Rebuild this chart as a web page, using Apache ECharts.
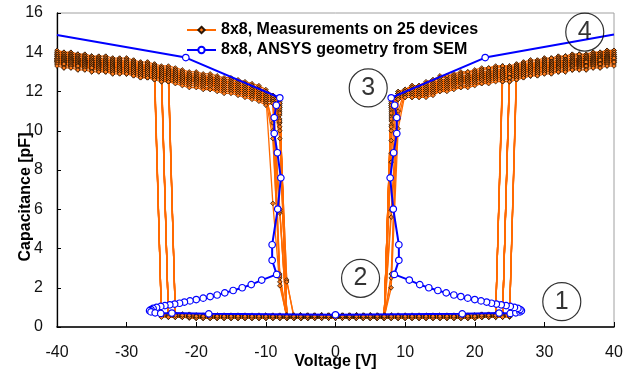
<!DOCTYPE html>
<html>
<head>
<meta charset="utf-8">
<script src="https://cdn.jsdelivr.net/npm/echarts@6/dist/echarts.min.js"></script>
<style>
html, body { margin: 0; padding: 0; background: #fff; }
#chart { width: 632px; height: 374px; }
</style>
</head>
<body>
<div id="chart"></div>
<script>
// C-V sweeps of 8x8 capacitive switches: 25 measured devices and the ANSYS model
const measName = '8x8, Measurements on 25 devices';
const simName = '8x8, ANSYS geometry from SEM';

// Sweep voltages [V]
const hiNegV = [-40,-39,-38,-37,-36,-35,-34,-33,-32,-31,-30,-29,-28,-27,-26,-25,-24,-23,-22,-21,-20,-19,-18,-17,-16,-15,-14,-13,-12,-11,-10,-9];
const hiPosV = [9,10,11,12,13,14,15,16,17,18,19,20,21,22,23,24,25,26,27,28,29,30,31,32,33,34,35,36,37,38,39,40];
const loV = [-25,-24,-23,-22,-21,-20,-19,-18,-17,-16,-15,-14,-13,-12,-11,-10,-9,-8,-7,-6,-5,-4,-3,-2,-1,0,1,2,3,4,5,6,7,8,9,10,11,12,13,14,15,16,17,18,19,20,21,22,23,24,25];
const tailNegV = [-8,-7,-6];
const tailPosV = [8,7,6];

// Pull-in voltage magnitude of each device (first point in the down state)
const pullNeg = [26,25,24,26,25,24,26,25,24,25,26,25,24,25,26,24,25,26,24,25,26,24,25,26,24];
const pullPos = [24,25,26,25,24,26,24,25,26,25,24,25,26,24,25,26,25,24,25,26,24,25,26,25,24];

// Down-state capacitance [pF], V = -40 ... -9
const hiNegC = [
[14.1,14.0,14.0,13.9,13.9,13.8,13.8,13.8,13.7,13.7, 13.7,13.6,13.5,13.5,13.4,13.3,13.3,13.2,13.1,13.0, 13.0,12.9,12.9,12.8,12.7,12.7,12.6,12.5,12.4,12.3, 12.1,11.8],
[14.0,13.9,13.9,13.8,13.8,13.7,13.7,13.7,13.6,13.6, 13.6,13.5,13.4,13.4,13.3,13.2,13.2,13.1,13.0,12.9, 12.9,12.8,12.8,12.7,12.6,12.6,12.5,12.4,12.3,12.2, 12.0,11.8],
[14.0,14.0,13.9,13.9,13.8,13.8,13.7,13.6,13.6,13.6, 13.5,13.5,13.4,13.3,13.3,13.2,13.1,13.1,13.0,12.9, 12.9,12.8,12.7,12.7,12.6,12.6,12.5,12.4,12.3,12.1, 12.0,11.8],
[13.9,13.8,13.8,13.7,13.7,13.6,13.6,13.6,13.5,13.5, 13.5,13.4,13.3,13.3,13.2,13.1,13.1,13.0,12.9,12.8, 12.8,12.7,12.7,12.6,12.5,12.5,12.4,12.3,12.2,12.1, 11.9,11.7],
[13.9,13.9,13.8,13.8,13.7,13.7,13.6,13.5,13.5,13.5, 13.4,13.4,13.3,13.2,13.2,13.1,13.0,13.0,12.9,12.8, 12.7,12.7,12.6,12.6,12.5,12.4,12.4,12.3,12.2,12.0, 11.9,10.0],
[13.9,13.8,13.8,13.7,13.6,13.6,13.6,13.5,13.5,13.5, 13.4,13.4,13.3,13.3,13.2,13.1,13.1,13.0,12.9,12.8, 12.8,12.7,12.7,12.6,12.5,12.5,12.4,12.3,12.2,12.1, 11.9,11.7],
[13.8,13.7,13.7,13.6,13.6,13.5,13.5,13.5,13.4,13.4, 13.4,13.3,13.2,13.2,13.1,13.0,13.0,12.9,12.8,12.7, 12.7,12.6,12.6,12.5,12.4,12.4,12.3,12.2,12.1,12.0, 11.8,11.7],
[13.8,13.8,13.7,13.7,13.6,13.6,13.5,13.4,13.4,13.4, 13.3,13.3,13.2,13.1,13.1,13.0,12.9,12.9,12.8,12.7, 12.7,12.6,12.5,12.5,12.4,12.4,12.3,12.2,12.1,11.9, 11.8,11.7],
[13.8,13.7,13.7,13.6,13.6,13.5,13.5,13.5,13.4,13.4, 13.4,13.3,13.2,13.2,13.1,13.0,13.0,12.9,12.8,12.7, 12.7,12.6,12.6,12.5,12.4,12.4,12.3,12.2,12.1,12.0, 11.8,11.7],
[13.7,13.7,13.6,13.6,13.6,13.5,13.5,13.4,13.4,13.4, 13.3,13.3,13.2,13.2,13.1,13.0,13.0,12.9,12.8,12.7, 12.7,12.6,12.6,12.5,12.4,12.4,12.3,12.2,12.1,12.0, 11.8,6.3],
[13.7,13.6,13.6,13.5,13.5,13.4,13.4,13.4,13.3,13.3, 13.3,13.2,13.1,13.1,13.0,12.9,12.9,12.8,12.7,12.6, 12.6,12.5,12.5,12.4,12.3,12.3,12.2,12.1,12.0,11.9, 11.7,11.6],
[13.7,13.7,13.6,13.6,13.5,13.5,13.4,13.3,13.3,13.3, 13.2,13.2,13.1,13.0,13.0,12.9,12.8,12.8,12.7,12.6, 12.6,12.5,12.4,12.4,12.3,12.3,12.2,12.1,12.0,11.8, 11.7,11.6],
[13.6,13.6,13.5,13.5,13.5,13.4,13.4,13.4,13.3,13.3, 13.3,13.2,13.1,13.1,13.0,12.9,12.9,12.8,12.7,12.6, 12.6,12.5,12.5,12.4,12.3,12.3,12.2,12.1,12.0,11.9, 11.7,11.6],
[13.7,13.6,13.6,13.5,13.5,13.4,13.4,13.3,13.3,13.3, 13.3,13.2,13.1,13.1,13.0,12.9,12.9,12.8,12.7,12.6, 12.6,12.5,12.5,12.4,12.3,12.3,12.2,12.1,12.0,11.9, 11.7,10.4],
[13.7,13.6,13.6,13.5,13.5,13.4,13.4,13.4,13.3,13.3, 13.2,13.2,13.1,13.1,13.0,12.9,12.9,12.8,12.7,12.6, 12.6,12.5,12.5,12.4,12.3,12.3,12.2,12.1,12.0,11.9, 11.7,11.6],
[13.6,13.5,13.5,13.4,13.4,13.3,13.3,13.3,13.2,13.2, 13.2,13.1,13.0,13.0,12.9,12.8,12.8,12.7,12.6,12.5, 12.5,12.4,12.4,12.3,12.2,12.2,12.1,12.0,11.9,11.8, 11.6,11.5],
[13.6,13.5,13.5,13.4,13.4,13.3,13.3,13.2,13.2,13.2, 13.1,13.1,13.0,13.0,12.9,12.8,12.8,12.7,12.6,12.5, 12.5,12.4,12.4,12.3,12.2,12.2,12.1,12.0,11.9,11.8, 11.6,9.6],
[13.5,13.5,13.5,13.4,13.4,13.3,13.3,13.3,13.2,13.2, 13.2,13.1,13.0,13.0,12.9,12.8,12.8,12.7,12.6,12.5, 12.5,12.4,12.3,12.3,12.2,12.2,12.1,12.0,11.9,11.8, 11.6,11.5],
[13.6,13.5,13.5,13.4,13.4,13.3,13.3,13.3,13.2,13.2, 13.2,13.1,13.0,13.0,12.9,12.8,12.8,12.7,12.6,12.5, 12.5,12.4,12.4,12.3,12.2,12.2,12.1,12.0,11.9,11.8, 11.6,11.5],
[13.5,13.4,13.4,13.3,13.3,13.2,13.2,13.2,13.1,13.1, 13.1,13.0,12.9,12.9,12.8,12.7,12.7,12.6,12.5,12.4, 12.4,12.3,12.3,12.2,12.1,12.1,12.0,11.9,11.8,11.7, 11.5,11.5],
[13.5,13.4,13.3,13.3,13.3,13.2,13.2,13.1,13.1,13.1, 13.0,13.0,12.9,12.8,12.8,12.7,12.6,12.6,12.5,12.4, 12.4,12.3,12.3,12.2,12.1,12.1,12.0,11.9,11.8,11.7, 11.5,11.5],
[13.5,13.4,13.4,13.3,13.3,13.2,13.2,13.2,13.1,13.1, 13.1,13.0,12.9,12.9,12.8,12.7,12.7,12.6,12.5,12.4, 12.4,12.3,12.3,12.2,12.1,12.1,12.0,11.9,11.8,11.7, 11.5,11.5],
[13.4,13.3,13.3,13.2,13.2,13.1,13.1,13.1,13.0,13.0, 13.0,12.9,12.8,12.8,12.7,12.6,12.6,12.5,12.4,12.3, 12.3,12.2,12.2,12.1,12.0,12.0,11.9,11.8,11.7,11.6, 11.4,11.4],
[13.4,13.4,13.3,13.3,13.2,13.2,13.1,13.0,13.0,13.0, 12.9,12.9,12.8,12.7,12.7,12.6,12.5,12.5,12.4,12.3, 12.3,12.2,12.1,12.1,12.0,12.0,11.9,11.8,11.7,11.6, 11.4,11.4],
[13.3,13.2,13.2,13.1,13.1,13.0,13.0,13.0,12.9,12.9, 12.9,12.8,12.7,12.7,12.6,12.5,12.5,12.4,12.3,12.2, 12.2,12.1,12.1,12.0,11.9,11.9,11.8,11.7,11.6,11.5, 11.3,11.4]
];

// Down-state capacitance [pF], V = 9 ... 40
const hiPosC = [
[12.0,12.1,12.3,12.3,12.5,12.6,12.8,12.8,12.9,13.0, 13.0,13.1,13.2,13.2,13.3,13.3,13.3,13.4,13.5,13.6, 13.6,13.7,13.7,13.8,13.8,13.9,13.9,13.9,14.0,14.0, 14.1,14.1],
[12.0,12.1,12.3,12.3,12.4,12.5,12.7,12.7,12.8,12.9, 12.9,13.0,13.1,13.1,13.2,13.2,13.2,13.3,13.4,13.5, 13.5,13.6,13.6,13.7,13.7,13.8,13.8,13.8,13.9,13.9, 14.0,14.0],
[11.0,12.1,12.2,12.3,12.4,12.6,12.7,12.8,12.8,12.9, 13.0,13.0,13.1,13.2,13.2,13.3,13.2,13.3,13.4,13.4, 13.5,13.6,13.7,13.7,13.8,13.8,13.9,13.8,13.9,14.0, 14.0,14.1],
[11.9,12.0,12.2,12.2,12.3,12.4,12.6,12.6,12.7,12.8, 12.8,12.9,13.0,13.0,13.1,13.1,13.1,13.2,13.3,13.4, 13.4,13.5,13.5,13.6,13.6,13.7,13.7,13.7,13.8,13.8, 13.9,13.9],
[11.9,12.0,12.1,12.2,12.3,12.4,12.5,12.6,12.7,12.7, 12.8,12.9,12.9,13.0,13.1,13.1,13.2,13.2,13.3,13.3, 13.4,13.5,13.5,13.5,13.6,13.6,13.7,13.8,13.8,13.9, 13.9,14.0],
[11.9,12.0,12.2,12.2,12.3,12.4,12.6,12.6,12.7,12.8, 12.8,12.9,13.0,13.0,13.1,13.1,13.1,13.2,13.3,13.4, 13.4,13.5,13.5,13.6,13.6,13.7,13.7,13.7,13.8,13.8, 13.9,13.9],
[10.6,12.0,12.1,12.1,12.2,12.3,12.5,12.5,12.6,12.7, 12.7,12.8,12.9,12.9,13.0,13.0,13.0,13.1,13.2,13.3, 13.3,13.4,13.4,13.5,13.5,13.6,13.6,13.6,13.7,13.7, 13.8,13.8],
[11.9,11.9,12.0,12.1,12.2,12.3,12.4,12.5,12.6,12.6, 12.7,12.8,12.8,12.9,13.0,13.0,13.1,13.1,13.2,13.2, 13.3,13.4,13.4,13.4,13.5,13.5,13.6,13.7,13.7,13.8, 13.8,13.9],
[11.9,12.0,12.1,12.1,12.2,12.3,12.5,12.5,12.6,12.7, 12.7,12.8,12.9,12.9,13.0,13.0,13.0,13.1,13.2,13.3, 13.3,13.4,13.4,13.5,13.5,13.6,13.6,13.6,13.7,13.7, 13.8,13.8],
[11.8,12.0,12.1,12.1,12.2,12.3,12.4,12.5,12.6,12.7, 12.7,12.8,12.9,12.9,13.0,13.0,13.0,13.1,13.2,13.3, 13.3,13.3,13.4,13.5,13.5,13.6,13.6,13.6,13.7,13.7, 13.8,13.8],
[10.1,11.9,12.0,12.0,12.1,12.2,12.4,12.4,12.5,12.6, 12.6,12.7,12.8,12.8,12.9,12.9,12.9,13.0,13.1,13.2, 13.2,13.3,13.3,13.4,13.4,13.5,13.5,13.5,13.6,13.6, 13.7,13.7],
[11.8,11.8,11.9,12.0,12.1,12.2,12.3,12.4,12.5,12.5, 12.6,12.7,12.7,12.8,12.9,12.9,13.0,13.0,13.1,13.1, 13.2,13.3,13.3,13.3,13.4,13.4,13.5,13.6,13.6,13.7, 13.7,13.8],
[11.8,11.9,12.0,12.0,12.1,12.2,12.4,12.4,12.5,12.6, 12.6,12.7,12.8,12.8,12.9,12.9,12.9,13.0,13.1,13.2, 13.2,13.3,13.3,13.4,13.4,13.5,13.5,13.5,13.6,13.6, 13.7,13.7],
[11.8,11.9,12.0,12.0,12.1,12.2,12.3,12.4,12.5,12.6, 12.6,12.7,12.8,12.8,12.9,12.9,12.9,13.0,13.1,13.2, 13.2,13.3,13.3,13.3,13.4,13.5,13.5,13.5,13.6,13.6, 13.7,13.7],
[11.8,11.9,12.0,12.0,12.1,12.2,12.4,12.4,12.5,12.6, 12.6,12.7,12.8,12.8,12.9,12.9,12.9,13.0,13.1,13.2, 13.2,13.3,13.3,13.4,13.4,13.5,13.5,13.5,13.6,13.6, 13.7,13.7],
[11.7,11.8,11.9,11.9,12.0,12.1,12.3,12.3,12.4,12.5, 12.5,12.6,12.7,12.7,12.8,12.8,12.8,12.9,13.0,13.1, 13.1,13.2,13.2,13.3,13.3,13.4,13.4,13.4,13.5,13.5, 13.6,13.6],
[11.7,11.8,11.9,11.9,12.0,12.1,12.2,12.3,12.4,12.5, 12.5,12.6,12.7,12.7,12.8,12.8,12.8,12.9,13.0,13.1, 13.1,13.2,13.2,13.3,13.3,13.3,13.4,13.4,13.5,13.5, 13.6,13.6],
[11.7,11.8,11.9,11.9,12.0,12.1,12.3,12.3,12.4,12.5, 12.5,12.6,12.7,12.7,12.8,12.8,12.8,12.9,13.0,13.1, 13.1,13.2,13.2,13.3,13.3,13.4,13.4,13.4,13.5,13.5, 13.6,13.6],
[11.7,11.8,11.8,11.9,12.0,12.1,12.2,12.3,12.4,12.4, 12.5,12.6,12.6,12.7,12.8,12.8,12.9,12.9,13.0,13.0, 13.1,13.2,13.2,13.2,13.3,13.3,13.4,13.5,13.5,13.6, 13.6,13.7],
[11.7,11.8,11.8,11.8,11.9,12.0,12.2,12.2,12.3,12.4, 12.4,12.5,12.6,12.6,12.7,12.7,12.7,12.8,12.9,13.0, 13.0,13.1,13.1,13.2,13.2,13.3,13.3,13.3,13.4,13.4, 13.5,13.5],
[11.7,11.8,11.8,11.8,11.9,12.0,12.1,12.2,12.3,12.4, 12.4,12.5,12.6,12.6,12.7,12.7,12.7,12.8,12.9,13.0, 13.0,13.0,13.1,13.2,13.2,13.3,13.3,13.3,13.4,13.4, 13.5,13.5],
[11.7,11.8,11.8,11.8,11.9,12.0,12.2,12.2,12.3,12.4, 12.4,12.5,12.6,12.6,12.7,12.7,12.7,12.8,12.9,13.0, 13.0,13.1,13.1,13.2,13.2,13.3,13.3,13.3,13.4,13.4, 13.5,13.5],
[11.6,11.7,11.7,11.7,11.8,11.9,12.1,12.1,12.2,12.3, 12.3,12.4,12.5,12.5,12.6,12.6,12.6,12.7,12.8,12.9, 12.9,13.0,13.0,13.1,13.1,13.2,13.2,13.2,13.3,13.3, 13.4,13.4],
[11.6,11.7,11.7,11.8,11.8,11.9,12.0,12.1,12.2,12.2, 12.3,12.4,12.4,12.5,12.6,12.6,12.7,12.7,12.8,12.8, 12.9,13.0,13.0,13.0,13.1,13.1,13.2,13.3,13.3,13.4, 13.4,13.5],
[11.6,11.7,11.7,11.7,11.7,11.8,12.0,12.0,12.1,12.2, 12.2,12.3,12.4,12.4,12.5,12.5,12.5,12.6,12.7,12.8, 12.8,12.9,12.9,13.0,13.0,13.1,13.1,13.1,13.2,13.2, 13.3,13.3]
];

// Release points [pF] at V = -8, -7, -6 and at V = 8, 7, 6
const tailNegC = [
[11.3,.55,.55],[10.4,.5,.5],[11.5,.6,.6],[10.0,.5,.5],[2.3,.45,.45],
[6.0,.55,.55],[11.0,.5,.5],[9.6,.5,.5],[2.7,.45,.45],[2.1,.55,.55],
[10.4,2.4,.5],[11.2,.6,.6],[5.8,.5,.5],[5.9,.45,.45],[11.4,.55,.55],
[2.5,.5,.5],[2.6,.5,.5],[10.8,.55,.55],[10.2,.45,.45],[11.1,.5,.5],
[10.6,2.3,.6],[11.4,.55,.55],[10.9,.5,.5],[11.2,.45,.45],[10.5,.55,.55]
];
const tailPosC = [
[11.2,.55,.55],[10.0,.5,.5],[8.4,.6,.6],[11.4,.5,.5],[9.5,.45,.45],
[5.95,.55,.55],[5.6,.5,.5],[10.8,.5,.5],[2.7,.45,.45],[8.85,.55,.55],
[2.0,.5,.5],[11.3,.6,.6],[2.5,.5,.5],[10.5,.45,.45],[11.0,.55,.55],
[10.3,.5,.5],[11.5,.5,.5],[10.7,.55,.55],[11.1,.45,.45],[10.2,.5,.5],
[11.4,.6,.6],[10.9,.55,.55],[11.2,.5,.5],[10.6,.45,.45],[11.3,.55,.55]
];

// Up-state capacitance [pF], V = -25 ... 25
const loC = [
[.6,.6,.6,.6,.6,.55,.55,.55,.55,.55, .55,.55,.55,.55,.5,.55,.55,.55,.55,.55, .55,.55,.55,.55,.55,.55,.55,.55,.55,.55, .55,.55,.55,.6,.55,.55,.55,.55,.55,.55, .55,.55,.55,.55,.55,.55,.6,.6,.6,.6, .6],
[.55,.55,.55,.55,.55,.5,.5,.5,.5,.5, .5,.5,.5,.5,.5,.5,.5,.55,.5,.5, .5,.5,.5,.5,.5,.5,.5,.5,.5,.5, .5,.5,.5,.5,.5,.5,.5,.5,.45,.5, .5,.5,.5,.5,.5,.5,.55,.55,.55,.55, .55],
[.65,.65,.65,.65,.6,.6,.6,.6,.6,.6, .6,.6,.6,.55,.6,.6,.6,.6,.6,.6, .6,.6,.6,.6,.6,.6,.6,.6,.6,.6, .6,.6,.6,.6,.6,.6,.6,.6,.6,.6, .6,.6,.6,.6,.6,.6,.65,.65,.65,.65, .65],
[.55,.55,.55,.5,.5,.5,.5,.5,.5,.5, .5,.5,.5,.5,.5,.5,.5,.5,.5,.5, .5,.5,.5,.45,.5,.5,.5,.5,.5,.5, .5,.5,.5,.5,.5,.5,.5,.5,.5,.5, .5,.5,.5,.5,.5,.5,.5,.55,.55,.55, .55],
[.5,.5,.5,.5,.5,.45,.45,.45,.45,.45, .45,.45,.45,.45,.45,.45,.45,.45,.45,.45, .45,.45,.45,.45,.45,.45,.45,.45,.45,.45, .45,.45,.45,.45,.45,.45,.45,.45,.45,.45, .45,.45,.45,.45,.45,.45,.5,.5,.5,.5, .5],
[.6,.6,.6,.6,.6,.55,.55,.55,.55,.55, .55,.55,.55,.55,.55,.55,.55,.55,.55,.55, .55,.5,.55,.55,.55,.55,.55,.55,.55,.55, .55,.55,.55,.55,.55,.55,.55,.55,.55,.55, .55,.55,.55,.55,.55,.55,.6,.6,.6,.6, .6],
[.55,.55,.55,.55,.55,.5,.5,.5,.5,.5, .5,.5,.5,.5,.5,.5,.5,.5,.5,.5, .5,.5,.5,.5,.5,.5,.5,.5,.55,.5, .5,.5,.5,.5,.5,.5,.5,.5,.5,.5, .5,.5,.5,.5,.5,.5,.55,.55,.55,.55, .55],
[.55,.55,.55,.55,.5,.5,.5,.5,.5,.5, .5,.5,.45,.5,.5,.5,.5,.5,.5,.5, .5,.5,.5,.5,.5,.5,.5,.5,.5,.5, .5,.5,.5,.5,.5,.5,.5,.5,.5,.5, .5,.5,.5,.5,.5,.5,.5,.55,.55,.55, .55],
[.5,.5,.5,.5,.45,.45,.45,.45,.45,.45, .45,.45,.45,.45,.45,.45,.45,.45,.45,.45, .45,.45,.45,.45,.45,.45,.45,.45,.45,.45, .45,.45,.45,.45,.45,.5,.45,.45,.45,.45, .45,.45,.45,.45,.45,.45,.5,.5,.5,.5, .5],
[.6,.6,.6,.6,.6,.55,.55,.55,.55,.55, .55,.55,.55,.55,.55,.55,.55,.55,.55,.55, .55,.55,.55,.55,.55,.55,.55,.55,.55,.55, .55,.55,.55,.55,.55,.55,.55,.55,.55,.55, .55,.55,.55,.5,.55,.55,.6,.6,.6,.6, .6],
[.55,.55,.55,.55,.55,.5,.5,.5,.5,.5, .5,.5,.5,.5,.5,.5,.5,.5,.5,.5, .5,.5,.5,.5,.5,.5,.5,.5,.5,.5, .5,.5,.5,.5,.5,.5,.5,.5,.5,.5, .5,.5,.5,.5,.5,.5,.55,.55,.55,.55, .55],
[.65,.65,.65,.65,.65,.6,.6,.6,.6,.6, .6,.6,.6,.6,.6,.6,.6,.6,.6,.6, .6,.6,.6,.6,.6,.55,.6,.6,.6,.6, .6,.6,.6,.6,.6,.6,.6,.6,.6,.6, .6,.6,.6,.6,.6,.6,.65,.65,.65,.65, .65],
[.55,.55,.55,.55,.55,.5,.5,.5,.5,.5, .5,.5,.5,.5,.5,.5,.5,.5,.5,.5, .45,.5,.5,.5,.5,.5,.5,.5,.5,.5, .5,.5,.5,.5,.5,.5,.5,.5,.5,.5, .5,.5,.5,.5,.5,.55,.55,.55,.55,.55, .55],
[.5,.5,.5,.5,.5,.45,.45,.45,.45,.45, .45,.45,.45,.45,.45,.45,.45,.45,.45,.45, .45,.45,.45,.45,.45,.45,.45,.45,.45,.45, .45,.45,.45,.45,.45,.45,.45,.45,.45,.45, .45,.45,.45,.45,.45,.45,.5,.5,.5,.5, .5],
[.6,.6,.6,.6,.55,.55,.55,.55,.55,.55, .55,.55,.55,.55,.55,.55,.55,.55,.55,.55, .55,.55,.55,.55,.55,.55,.55,.55,.55,.55, .55,.55,.55,.55,.55,.55,.55,.55,.55,.55, .55,.55,.55,.55,.55,.55,.6,.6,.6,.6, .6],
[.55,.55,.55,.55,.55,.5,.5,.5,.5,.5, .5,.5,.5,.5,.5,.5,.5,.5,.5,.5, .5,.5,.5,.5,.5,.5,.5,.5,.5,.5, .5,.5,.5,.5,.5,.5,.5,.5,.5,.5, .5,.5,.5,.5,.5,.5,.55,.55,.55,.55, .55],
[.55,.55,.55,.55,.55,.5,.5,.5,.5,.5, .5,.5,.5,.5,.5,.5,.5,.5,.5,.55, .5,.5,.5,.5,.5,.5,.5,.5,.5,.5, .5,.5,.5,.5,.5,.5,.5,.5,.5,.5, .5,.5,.5,.5,.5,.5,.5,.55,.55,.55, .55],
[.6,.6,.6,.6,.6,.55,.55,.55,.55,.55, .55,.55,.55,.55,.55,.55,.55,.55,.55,.55, .55,.55,.55,.55,.55,.55,.55,.55,.55,.55, .55,.55,.55,.55,.55,.55,.55,.55,.55,.55, .55,.55,.55,.55,.55,.55,.6,.6,.6,.6, .6],
[.5,.5,.5,.5,.5,.45,.45,.45,.45,.45, .45,.45,.45,.45,.45,.45,.45,.45,.45,.45, .45,.45,.45,.45,.45,.45,.45,.45,.45,.45, .45,.45,.45,.45,.45,.45,.45,.45,.45,.45, .45,.45,.45,.45,.45,.45,.5,.5,.5,.5, .5],
[.55,.55,.55,.55,.55,.5,.5,.5,.5,.5, .5,.5,.5,.5,.5,.5,.5,.5,.5,.5, .5,.5,.5,.5,.5,.5,.5,.5,.5,.5, .5,.5,.5,.5,.5,.5,.5,.5,.5,.5, .5,.5,.5,.5,.5,.5,.55,.55,.55,.55, .55],
[.65,.65,.65,.65,.65,.6,.6,.6,.6,.6, .6,.6,.6,.6,.6,.6,.6,.6,.6,.6, .6,.6,.6,.6,.6,.6,.6,.6,.6,.6, .6,.6,.6,.6,.6,.6,.6,.6,.6,.6, .6,.6,.6,.6,.6,.6,.65,.65,.65,.65, .65],
[.6,.6,.6,.6,.6,.55,.55,.55,.55,.55, .55,.55,.55,.55,.55,.55,.55,.55,.55,.55, .55,.55,.55,.55,.55,.55,.55,.55,.55,.55, .55,.55,.55,.55,.55,.55,.55,.55,.55,.55, .55,.55,.55,.55,.55,.55,.6,.6,.6,.6, .6],
[.55,.55,.55,.55,.55,.5,.5,.5,.5,.5, .5,.5,.5,.5,.5,.5,.5,.5,.5,.5, .5,.5,.5,.5,.5,.5,.5,.5,.5,.5, .5,.5,.5,.5,.5,.5,.5,.5,.5,.5, .5,.5,.5,.5,.5,.5,.55,.55,.55,.55, .55],
[.5,.5,.5,.5,.5,.45,.45,.45,.45,.45, .45,.45,.45,.45,.45,.45,.45,.45,.45,.45, .45,.45,.45,.45,.45,.45,.45,.45,.45,.45, .45,.45,.45,.45,.45,.45,.45,.45,.45,.45, .45,.45,.45,.45,.45,.45,.5,.5,.5,.5, .5],
[.6,.6,.6,.6,.6,.55,.55,.55,.55,.55, .55,.55,.55,.55,.55,.55,.55,.55,.55,.55, .55,.55,.55,.55,.55,.55,.55,.55,.55,.55, .55,.55,.55,.55,.55,.55,.55,.55,.55,.55, .55,.55,.55,.55,.55,.55,.6,.6,.6,.6, .6]
];

// ANSYS model: full S-curve including the unstable branch
const simV = [-40,-21.5,-8.0,-8.5,-8.8,-8.8,-8.35,-7.85,-8.3,-9.1,-9.1,-8.45,-10.6,-12.1,-13.4,-14.7,-15.9,-17.0,-18.0,-19.0,-20.0,-20.9,-21.7,-22.4,-23.1,-23.8,-24.5,-25.1,-25.7,-26.2,-26.5,-26.7,-26.5,-25.9,-25.1,-23.5,-18.2,0,18.2,23.5,25.1,25.9,26.5,26.7,26.5,26.2,25.7,25.1,24.5,23.8,23.1,22.4,21.7,20.9,20.0,19.0,18.0,17.0,15.9,14.7,13.4,12.1,10.6,8.45,9.1,9.1,8.3,7.85,8.35,8.8,8.8,8.5,8.0,21.5,40];
const simC = [14.88,13.73,11.68,11.3,10.67,9.86,8.88,7.6,6.01,4.19,3.4,2.68,2.39,2.16,2.0,1.86,1.74,1.63,1.55,1.47,1.4,1.33,1.27,1.21,1.17,1.13,1.09,1.05,1.0,0.95,0.89,0.83,0.77,0.72,0.69,0.71,0.67,0.62,0.67,0.71,0.69,0.72,0.77,0.83,0.89,0.95,1.0,1.05,1.09,1.13,1.17,1.21,1.27,1.33,1.4,1.47,1.55,1.63,1.74,1.86,2.0,2.16,2.39,2.68,3.4,4.19,6.01,7.6,8.88,9.86,10.67,11.3,11.68,13.73,14.9];

// Numbered operating regions
const noteText = ['1','2','3','4'];
const noteV = [32.5, 3.6, 4.7, 35.8];
const noteC = [1.29, 2.48, 12.18, 15.03];

const FONT = '"Liberation Sans", Arial, Helvetica, sans-serif';

// One device: 0 -> -40 -> 0 V, then 0 -> +40 -> 0 V
function sweepPath(d) {
  const pts = [];
  const lo = loC[d], hn = hiNegC[d], hp = hiPosC[d];
  const i0 = loV.indexOf(0);
  for (let i = i0; i >= 0; i--) if (loV[i] > -pullNeg[d]) pts.push([loV[i], lo[i]]);
  for (let i = hiNegV.indexOf(-pullNeg[d]); i >= 0; i--) pts.push([hiNegV[i], hn[i]]);
  for (let i = 1; i < hiNegV.length; i++) pts.push([hiNegV[i], hn[i]]);
  tailNegV.forEach((v, j) => pts.push([v, tailNegC[d][j]]));
  for (let i = loV.indexOf(tailNegV[tailNegV.length - 1]) + 1; i <= i0; i++) pts.push([loV[i], lo[i]]);
  for (let i = i0; i < loV.length; i++) if (loV[i] < pullPos[d]) pts.push([loV[i], lo[i]]);
  for (let i = hiPosV.indexOf(pullPos[d]); i < hiPosV.length; i++) pts.push([hiPosV[i], hp[i]]);
  for (let i = hiPosV.length - 2; i >= 0; i--) pts.push([hiPosV[i], hp[i]]);
  tailPosV.forEach((v, j) => pts.push([v, tailPosC[d][j]]));
  for (let i = loV.indexOf(tailPosV[tailPosV.length - 1]) - 1; i >= i0; i--) pts.push([loV[i], lo[i]]);
  return pts;
}

const series = [];
for (let d = 0; d < loC.length; d++) {
  series.push({
    type: 'line',
    name: measName,
    data: sweepPath(d),
    symbol: 'diamond',
    symbolSize: 4.6,
    lineStyle: { color: '#ff6a00', width: 1.3 },
    itemStyle: { color: '#ff7a1a', borderColor: '#2a1606', borderWidth: 0.8 },
    z: 2,
    silent: true
  });
}
series.push({
  type: 'line',
  name: simName,
  data: simV.map((v, i) => ({ value: [v, simC[i]], symbol: Math.abs(v) >= 40 ? 'none' : 'circle' })),
  symbol: 'circle',
  symbolSize: 6.5,
  lineStyle: { color: '#0000ff', width: 2 },
  itemStyle: { color: '#ffffff', borderColor: '#0000ff', borderWidth: 1.2 },
  z: 3,
  silent: true
});
series.push({
  type: 'scatter',
  name: 'regions',
  data: noteV.map((v, i) => ({ name: noteText[i], value: [v, noteC[i]] })),
  symbol: 'circle',
  symbolSize: 38,
  itemStyle: { color: 'rgba(0,0,0,0)', borderColor: '#000', borderWidth: 1.2 },
  label: { show: true, position: 'inside', formatter: '{b}', fontSize: 25, color: '#000', fontFamily: FONT },
  z: 4,
  silent: true
});

const chart = echarts.init(document.getElementById('chart'), null, { renderer: 'canvas' });
chart.setOption({
  animation: false,
  backgroundColor: '#ffffff',
  grid: { left: 57, right: 18, top: 13, bottom: 47, show: true, borderColor: '#a0a0a0', borderWidth: 1, backgroundColor: 'transparent', outerBoundsMode: 'none' },
  legend: {
    data: [measName, simName],
    orient: 'vertical',
    left: 181,
    top: 17,
    itemWidth: 29,
    itemHeight: 8,
    itemGap: 4,
    selectedMode: false,
    textStyle: { fontSize: 16, fontWeight: 'bold', color: '#000', fontFamily: FONT }
  },
  xAxis: {
    type: 'value', min: -40, max: 40, interval: 10,
    name: 'Voltage [V]', nameLocation: 'middle', nameGap: 27, nameMoveOverlap: false,
    nameTextStyle: { fontSize: 16, fontWeight: 'bold', color: '#000', fontFamily: FONT },
    axisLine: { show: true, onZero: false, lineStyle: { color: '#000', width: 1.5 } },
    axisTick: { show: true, inside: true, length: 5, lineStyle: { color: '#000', width: 1 } },
    axisLabel: { fontSize: 16, color: '#111', fontFamily: FONT, margin: 18 },
    splitLine: { show: false }
  },
  yAxis: {
    type: 'value', min: 0, max: 16, interval: 2,
    name: 'Capacitance [pF]', nameLocation: 'middle', nameGap: 23, nameMoveOverlap: false,
    nameTextStyle: { fontSize: 16, fontWeight: 'bold', color: '#000', fontFamily: FONT, padding: [0, 54, 0, 0] },
    axisLine: { show: true, onZero: false, lineStyle: { color: '#000', width: 1.3 } },
    axisTick: { show: true, inside: true, length: 4, lineStyle: { color: '#000', width: 1 } },
    axisLabel: { fontSize: 16, color: '#111', fontFamily: FONT, margin: 14 },
    splitLine: { show: false }
  },
  series: series
});
</script>
</body>
</html>
